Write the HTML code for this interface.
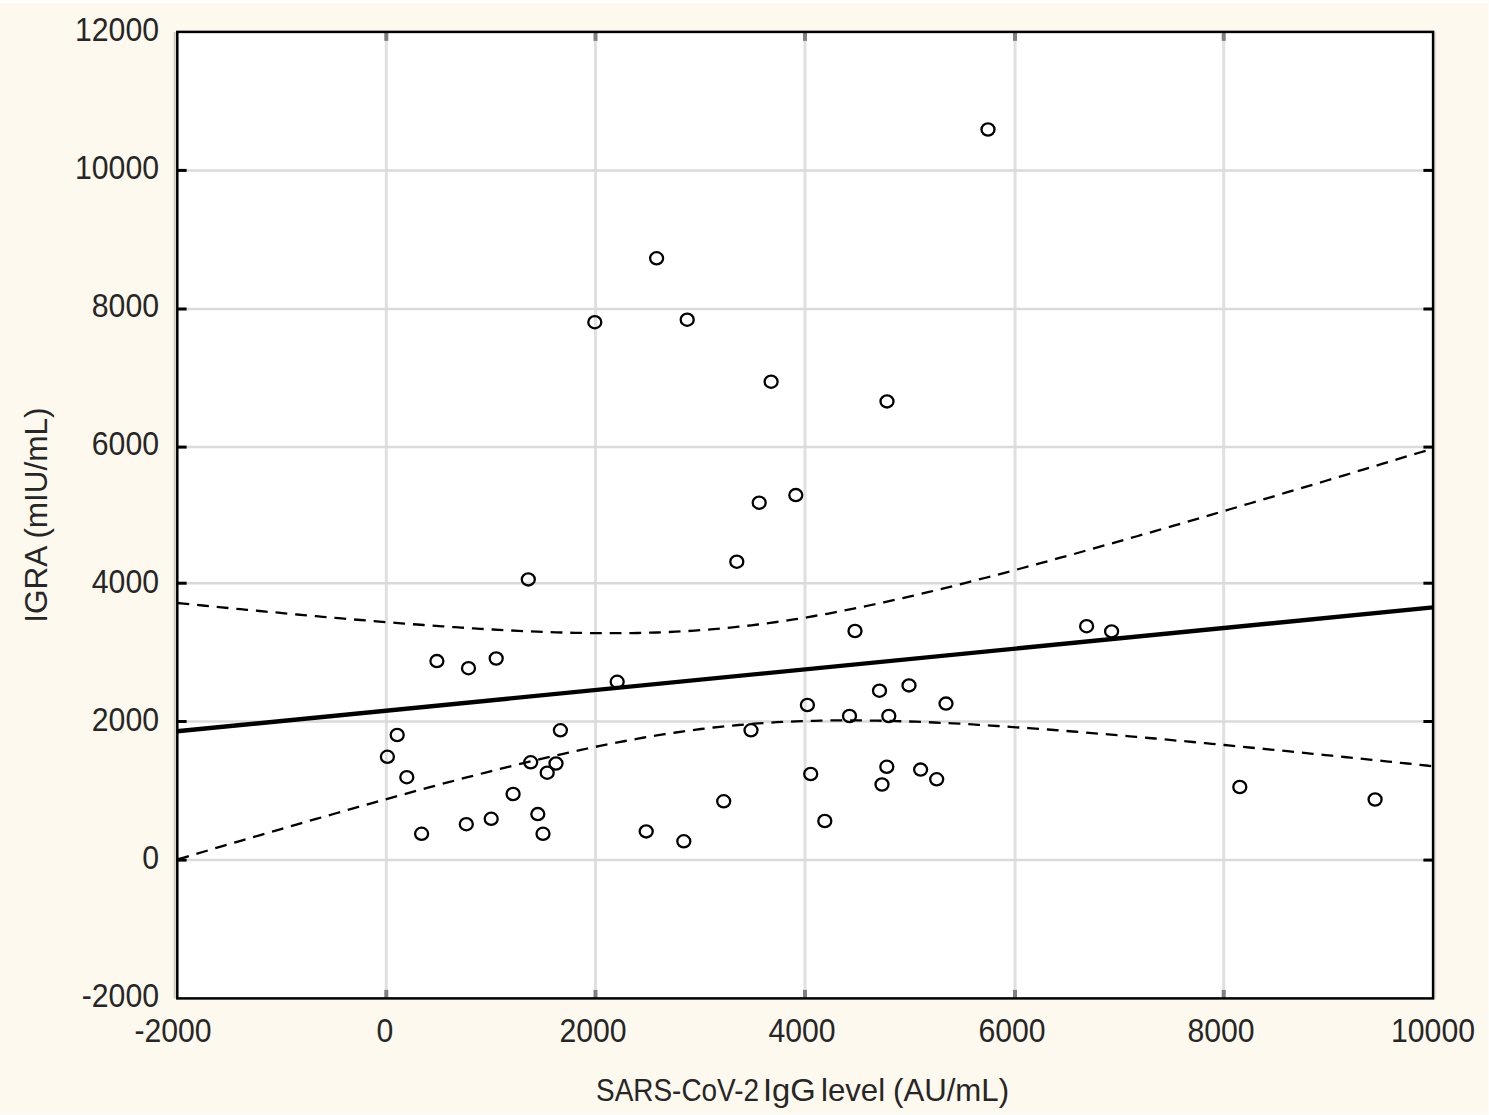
<!DOCTYPE html>
<html><head><meta charset="utf-8"><style>
html,body{margin:0;padding:0;}
body{width:1489px;height:1115px;position:relative;overflow:hidden;background:#fef9ee;font-family:"Liberation Sans",sans-serif;color:#262626;}
.top{position:absolute;left:0;top:0;width:1489px;height:4px;background:linear-gradient(#fefefe 0,#fefefe 2.7px,#fef9ee 4px);}
.bot{position:absolute;left:0;bottom:0;width:1489px;height:1px;background:#fefcf6;}
.rgt{position:absolute;right:0;top:0;width:1px;height:1115px;background:#fefcf8;}
svg{position:absolute;left:0;top:0;}
.yl{position:absolute;left:20px;width:139px;text-align:right;font-size:33px;line-height:34px;height:34px;white-space:nowrap;transform:scaleX(0.915);transform-origin:100% 50%;}
.xl{position:absolute;top:1014px;width:120px;text-align:center;font-size:33px;line-height:34px;white-space:nowrap;transform:scaleX(0.915);}
.xw{position:absolute;top:1072px;font-size:31.5px;line-height:36px;white-space:nowrap;transform-origin:0 50%;}
.yt{position:absolute;left:36px;top:515px;width:300px;height:36px;margin-left:-150px;margin-top:-18px;text-align:center;font-size:31.5px;line-height:36px;white-space:nowrap;transform:rotate(-90deg);}
</style></head><body>
<div class="top"></div><div class="bot"></div><div class="rgt"></div>
<svg width="1489" height="1115" viewBox="0 0 1489 1115">
<rect x="176.6" y="32.4" width="1256.8000000000002" height="966.0" fill="#ffffff"/>
<line x1="386.3" y1="32.4" x2="386.3" y2="998.4" stroke="#e0e0e0" stroke-width="3"/>
<line x1="595.5" y1="32.4" x2="595.5" y2="998.4" stroke="#e0e0e0" stroke-width="3"/>
<line x1="805.0" y1="32.4" x2="805.0" y2="998.4" stroke="#e0e0e0" stroke-width="3"/>
<line x1="1015.0" y1="32.4" x2="1015.0" y2="998.4" stroke="#e0e0e0" stroke-width="3"/>
<line x1="1223.7" y1="32.4" x2="1223.7" y2="998.4" stroke="#e0e0e0" stroke-width="3"/>
<line x1="176.6" y1="860.1" x2="1433.4" y2="860.1" stroke="#dadada" stroke-width="2.5"/>
<line x1="176.6" y1="721.5" x2="1433.4" y2="721.5" stroke="#dadada" stroke-width="2.5"/>
<line x1="176.6" y1="583.2" x2="1433.4" y2="583.2" stroke="#dadada" stroke-width="2.5"/>
<line x1="176.6" y1="447.1" x2="1433.4" y2="447.1" stroke="#dadada" stroke-width="2.5"/>
<line x1="176.6" y1="309.0" x2="1433.4" y2="309.0" stroke="#dadada" stroke-width="2.5"/>
<line x1="176.6" y1="170.4" x2="1433.4" y2="170.4" stroke="#dadada" stroke-width="2.5"/>
<line x1="386.3" y1="998.4" x2="386.3" y2="989.9" stroke="#808080" stroke-width="4"/>
<line x1="386.3" y1="32.4" x2="386.3" y2="40.9" stroke="#808080" stroke-width="4"/>
<line x1="595.5" y1="998.4" x2="595.5" y2="989.9" stroke="#808080" stroke-width="4"/>
<line x1="595.5" y1="32.4" x2="595.5" y2="40.9" stroke="#808080" stroke-width="4"/>
<line x1="805.0" y1="998.4" x2="805.0" y2="989.9" stroke="#808080" stroke-width="4"/>
<line x1="805.0" y1="32.4" x2="805.0" y2="40.9" stroke="#808080" stroke-width="4"/>
<line x1="1015.0" y1="998.4" x2="1015.0" y2="989.9" stroke="#808080" stroke-width="4"/>
<line x1="1015.0" y1="32.4" x2="1015.0" y2="40.9" stroke="#808080" stroke-width="4"/>
<line x1="1223.7" y1="998.4" x2="1223.7" y2="989.9" stroke="#808080" stroke-width="4"/>
<line x1="1223.7" y1="32.4" x2="1223.7" y2="40.9" stroke="#808080" stroke-width="4"/>
<line x1="176.6" y1="860.1" x2="186.6" y2="860.1" stroke="#000" stroke-width="3"/>
<line x1="1433.4" y1="860.1" x2="1423.4" y2="860.1" stroke="#000" stroke-width="3"/>
<line x1="176.6" y1="721.5" x2="186.6" y2="721.5" stroke="#000" stroke-width="3"/>
<line x1="1433.4" y1="721.5" x2="1423.4" y2="721.5" stroke="#000" stroke-width="3"/>
<line x1="176.6" y1="583.2" x2="186.6" y2="583.2" stroke="#000" stroke-width="3"/>
<line x1="1433.4" y1="583.2" x2="1423.4" y2="583.2" stroke="#000" stroke-width="3"/>
<line x1="176.6" y1="447.1" x2="186.6" y2="447.1" stroke="#000" stroke-width="3"/>
<line x1="1433.4" y1="447.1" x2="1423.4" y2="447.1" stroke="#000" stroke-width="3"/>
<line x1="176.6" y1="309.0" x2="186.6" y2="309.0" stroke="#000" stroke-width="3"/>
<line x1="1433.4" y1="309.0" x2="1423.4" y2="309.0" stroke="#000" stroke-width="3"/>
<line x1="176.6" y1="170.4" x2="186.6" y2="170.4" stroke="#000" stroke-width="3"/>
<line x1="1433.4" y1="170.4" x2="1423.4" y2="170.4" stroke="#000" stroke-width="3"/>
<polyline points="177.5,603.0 183.8,603.6 190.1,604.3 196.4,604.9 202.7,605.5 209.0,606.1 215.3,606.7 221.6,607.4 228.0,608.0 234.3,608.6 240.6,609.2 246.9,609.8 253.2,610.4 259.5,611.0 265.8,611.6 272.1,612.2 278.4,612.7 284.7,613.3 291.0,613.9 297.3,614.5 303.6,615.1 309.9,615.6 316.2,616.2 322.6,616.8 328.9,617.3 335.2,617.9 341.5,618.4 347.8,619.0 354.1,619.5 360.4,620.0 366.7,620.5 373.0,621.1 379.3,621.6 385.6,622.1 391.9,622.6 398.2,623.1 404.5,623.6 410.8,624.1 417.1,624.5 423.5,625.0 429.8,625.5 436.1,625.9 442.4,626.3 448.7,626.8 455.0,627.2 461.3,627.6 467.6,628.0 473.9,628.4 480.2,628.8 486.5,629.2 492.8,629.5 499.1,629.9 505.4,630.2 511.7,630.5 518.1,630.8 524.4,631.1 530.7,631.4 537.0,631.6 543.3,631.9 549.6,632.1 555.9,632.3 562.2,632.5 568.5,632.7 574.8,632.8 581.1,632.9 587.4,633.0 593.7,633.1 600.0,633.2 606.3,633.2 612.7,633.2 619.0,633.2 625.3,633.1 631.6,633.1 637.9,633.0 644.2,632.8 650.5,632.7 656.8,632.5 663.1,632.2 669.4,632.0 675.7,631.7 682.0,631.3 688.3,631.0 694.6,630.6 700.9,630.1 707.2,629.7 713.6,629.2 719.9,628.6 726.2,628.0 732.5,627.4 738.8,626.7 745.1,626.0 751.4,625.3 757.7,624.5 764.0,623.7 770.3,622.9 776.6,622.0 782.9,621.1 789.2,620.1 795.5,619.2 801.8,618.2 808.2,617.1 814.5,616.0 820.8,614.9 827.1,613.8 833.4,612.6 839.7,611.4 846.0,610.2 852.3,608.9 858.6,607.7 864.9,606.4 871.2,605.0 877.5,603.7 883.8,602.3 890.1,600.9 896.4,599.5 902.8,598.1 909.1,596.6 915.4,595.2 921.7,593.7 928.0,592.2 934.3,590.7 940.6,589.1 946.9,587.6 953.2,586.0 959.5,584.4 965.8,582.8 972.1,581.2 978.4,579.6 984.7,578.0 991.0,576.4 997.3,574.7 1003.7,573.1 1010.0,571.4 1016.3,569.7 1022.6,568.0 1028.9,566.3 1035.2,564.6 1041.5,562.9 1047.8,561.2 1054.1,559.5 1060.4,557.7 1066.7,556.0 1073.0,554.3 1079.3,552.5 1085.6,550.7 1091.9,549.0 1098.3,547.2 1104.6,545.4 1110.9,543.7 1117.2,541.9 1123.5,540.1 1129.8,538.3 1136.1,536.5 1142.4,534.7 1148.7,532.9 1155.0,531.1 1161.3,529.2 1167.6,527.4 1173.9,525.6 1180.2,523.8 1186.5,521.9 1192.9,520.1 1199.2,518.3 1205.5,516.4 1211.8,514.6 1218.1,512.7 1224.4,510.9 1230.7,509.0 1237.0,507.2 1243.3,505.3 1249.6,503.5 1255.9,501.6 1262.2,499.7 1268.5,497.9 1274.8,496.0 1281.1,494.1 1287.4,492.2 1293.8,490.4 1300.1,488.5 1306.4,486.6 1312.7,484.7 1319.0,482.8 1325.3,481.0 1331.6,479.1 1337.9,477.2 1344.2,475.3 1350.5,473.4 1356.8,471.5 1363.1,469.6 1369.4,467.7 1375.7,465.8 1382.0,463.9 1388.4,462.0 1394.7,460.1 1401.0,458.2 1407.3,456.3 1413.6,454.4 1419.9,452.5 1426.2,450.6 1432.5,448.7" fill="none" stroke="#000" stroke-width="2.3" stroke-dasharray="11.8 7.9"/>
<polyline points="177.5,859.4 183.8,857.6 190.1,855.7 196.4,853.8 202.7,852.0 209.0,850.1 215.3,848.2 221.6,846.4 228.0,844.5 234.3,842.7 240.6,840.8 246.9,839.0 253.2,837.1 259.5,835.3 265.8,833.5 272.1,831.6 278.4,829.8 284.7,828.0 291.0,826.1 297.3,824.3 303.6,822.5 309.9,820.7 316.2,818.9 322.6,817.1 328.9,815.3 335.2,813.5 341.5,811.7 347.8,809.9 354.1,808.1 360.4,806.3 366.7,804.6 373.0,802.8 379.3,801.0 385.6,799.3 391.9,797.6 398.2,795.8 404.5,794.1 410.8,792.4 417.1,790.6 423.5,788.9 429.8,787.2 436.1,785.5 442.4,783.8 448.7,782.2 455.0,780.5 461.3,778.8 467.6,777.2 473.9,775.6 480.2,773.9 486.5,772.3 492.8,770.7 499.1,769.1 505.4,767.6 511.7,766.0 518.1,764.4 524.4,762.9 530.7,761.4 537.0,759.9 543.3,758.4 549.6,756.9 555.9,755.5 562.2,754.1 568.5,752.6 574.8,751.3 581.1,749.9 587.4,748.5 593.7,747.2 600.0,745.9 606.3,744.6 612.7,743.4 619.0,742.2 625.3,741.0 631.6,739.8 637.9,738.7 644.2,737.5 650.5,736.5 656.8,735.4 663.1,734.4 669.4,733.4 675.7,732.5 682.0,731.6 688.3,730.7 694.6,729.8 700.9,729.0 707.2,728.3 713.6,727.5 719.9,726.8 726.2,726.2 732.5,725.6 738.8,725.0 745.1,724.4 751.4,723.9 757.7,723.4 764.0,723.0 770.3,722.6 776.6,722.2 782.9,721.9 789.2,721.6 795.5,721.4 801.8,721.1 808.2,720.9 814.5,720.8 820.8,720.6 827.1,720.5 833.4,720.4 839.7,720.4 846.0,720.4 852.3,720.4 858.6,720.4 864.9,720.5 871.2,720.6 877.5,720.7 883.8,720.8 890.1,720.9 896.4,721.1 902.8,721.3 909.1,721.5 915.4,721.7 921.7,722.0 928.0,722.2 934.3,722.5 940.6,722.8 946.9,723.1 953.2,723.4 959.5,723.7 965.8,724.1 972.1,724.4 978.4,724.8 984.7,725.2 991.0,725.6 997.3,726.0 1003.7,726.4 1010.0,726.8 1016.3,727.3 1022.6,727.7 1028.9,728.1 1035.2,728.6 1041.5,729.1 1047.8,729.5 1054.1,730.0 1060.4,730.5 1066.7,731.0 1073.0,731.5 1079.3,732.0 1085.6,732.5 1091.9,733.1 1098.3,733.6 1104.6,734.1 1110.9,734.7 1117.2,735.2 1123.5,735.7 1129.8,736.3 1136.1,736.9 1142.4,737.4 1148.7,738.0 1155.0,738.5 1161.3,739.1 1167.6,739.7 1173.9,740.3 1180.2,740.9 1186.5,741.4 1192.9,742.0 1199.2,742.6 1205.5,743.2 1211.8,743.8 1218.1,744.4 1224.4,745.0 1230.7,745.6 1237.0,746.3 1243.3,746.9 1249.6,747.5 1255.9,748.1 1262.2,748.7 1268.5,749.4 1274.8,750.0 1281.1,750.6 1287.4,751.2 1293.8,751.9 1300.1,752.5 1306.4,753.1 1312.7,753.8 1319.0,754.4 1325.3,755.1 1331.6,755.7 1337.9,756.3 1344.2,757.0 1350.5,757.6 1356.8,758.3 1363.1,758.9 1369.4,759.6 1375.7,760.2 1382.0,760.9 1388.4,761.6 1394.7,762.2 1401.0,762.9 1407.3,763.5 1413.6,764.2 1419.9,764.9 1426.2,765.5 1432.5,766.2" fill="none" stroke="#000" stroke-width="2.3" stroke-dasharray="11.8 7.9"/>
<line x1="177" y1="731.3" x2="1433" y2="607.4" stroke="#000" stroke-width="4.4"/>
<ellipse cx="988" cy="129.5" rx="6.5" ry="6.1" fill="none" stroke="#000" stroke-width="2.3"/>
<ellipse cx="656.6" cy="258.3" rx="6.5" ry="6.1" fill="none" stroke="#000" stroke-width="2.3"/>
<ellipse cx="594.8" cy="322.2" rx="6.5" ry="6.1" fill="none" stroke="#000" stroke-width="2.3"/>
<ellipse cx="687.2" cy="319.7" rx="6.5" ry="6.1" fill="none" stroke="#000" stroke-width="2.3"/>
<ellipse cx="771.1" cy="381.7" rx="6.5" ry="6.1" fill="none" stroke="#000" stroke-width="2.3"/>
<ellipse cx="887" cy="401.4" rx="6.5" ry="6.1" fill="none" stroke="#000" stroke-width="2.3"/>
<ellipse cx="795.8" cy="495.1" rx="6.5" ry="6.1" fill="none" stroke="#000" stroke-width="2.3"/>
<ellipse cx="759.2" cy="502.7" rx="6.5" ry="6.1" fill="none" stroke="#000" stroke-width="2.3"/>
<ellipse cx="736.8" cy="561.7" rx="6.5" ry="6.1" fill="none" stroke="#000" stroke-width="2.3"/>
<ellipse cx="528.3" cy="579.4" rx="6.5" ry="6.1" fill="none" stroke="#000" stroke-width="2.3"/>
<ellipse cx="855" cy="631" rx="6.5" ry="6.1" fill="none" stroke="#000" stroke-width="2.3"/>
<ellipse cx="1086.6" cy="626.2" rx="6.5" ry="6.1" fill="none" stroke="#000" stroke-width="2.3"/>
<ellipse cx="1111.6" cy="631.4" rx="6.5" ry="6.1" fill="none" stroke="#000" stroke-width="2.3"/>
<ellipse cx="436.9" cy="661.1" rx="6.5" ry="6.1" fill="none" stroke="#000" stroke-width="2.3"/>
<ellipse cx="468.5" cy="668.2" rx="6.5" ry="6.1" fill="none" stroke="#000" stroke-width="2.3"/>
<ellipse cx="496.2" cy="658.5" rx="6.5" ry="6.1" fill="none" stroke="#000" stroke-width="2.3"/>
<ellipse cx="617.2" cy="681.8" rx="6.5" ry="6.1" fill="none" stroke="#000" stroke-width="2.3"/>
<ellipse cx="879.5" cy="690.7" rx="6.5" ry="6.1" fill="none" stroke="#000" stroke-width="2.3"/>
<ellipse cx="909" cy="685.4" rx="6.5" ry="6.1" fill="none" stroke="#000" stroke-width="2.3"/>
<ellipse cx="946" cy="703.6" rx="6.5" ry="6.1" fill="none" stroke="#000" stroke-width="2.3"/>
<ellipse cx="807.4" cy="705" rx="6.5" ry="6.1" fill="none" stroke="#000" stroke-width="2.3"/>
<ellipse cx="849.5" cy="716" rx="6.5" ry="6.1" fill="none" stroke="#000" stroke-width="2.3"/>
<ellipse cx="888.8" cy="716" rx="6.5" ry="6.1" fill="none" stroke="#000" stroke-width="2.3"/>
<ellipse cx="751" cy="730.3" rx="6.5" ry="6.1" fill="none" stroke="#000" stroke-width="2.3"/>
<ellipse cx="560.4" cy="730.3" rx="6.5" ry="6.1" fill="none" stroke="#000" stroke-width="2.3"/>
<ellipse cx="397.2" cy="735" rx="6.5" ry="6.1" fill="none" stroke="#000" stroke-width="2.3"/>
<ellipse cx="387.4" cy="756.8" rx="6.5" ry="6.1" fill="none" stroke="#000" stroke-width="2.3"/>
<ellipse cx="530.7" cy="762.3" rx="6.5" ry="6.1" fill="none" stroke="#000" stroke-width="2.3"/>
<ellipse cx="556" cy="763.5" rx="6.5" ry="6.1" fill="none" stroke="#000" stroke-width="2.3"/>
<ellipse cx="547.2" cy="772.7" rx="6.5" ry="6.1" fill="none" stroke="#000" stroke-width="2.3"/>
<ellipse cx="406.8" cy="777.2" rx="6.5" ry="6.1" fill="none" stroke="#000" stroke-width="2.3"/>
<ellipse cx="810.7" cy="774" rx="6.5" ry="6.1" fill="none" stroke="#000" stroke-width="2.3"/>
<ellipse cx="886.8" cy="766.8" rx="6.5" ry="6.1" fill="none" stroke="#000" stroke-width="2.3"/>
<ellipse cx="920.6" cy="769.6" rx="6.5" ry="6.1" fill="none" stroke="#000" stroke-width="2.3"/>
<ellipse cx="936.7" cy="779.3" rx="6.5" ry="6.1" fill="none" stroke="#000" stroke-width="2.3"/>
<ellipse cx="882" cy="784.5" rx="6.5" ry="6.1" fill="none" stroke="#000" stroke-width="2.3"/>
<ellipse cx="1239.8" cy="787" rx="6.5" ry="6.1" fill="none" stroke="#000" stroke-width="2.3"/>
<ellipse cx="513.1" cy="794" rx="6.5" ry="6.1" fill="none" stroke="#000" stroke-width="2.3"/>
<ellipse cx="1375.1" cy="799.5" rx="6.5" ry="6.1" fill="none" stroke="#000" stroke-width="2.3"/>
<ellipse cx="723.7" cy="801.3" rx="6.5" ry="6.1" fill="none" stroke="#000" stroke-width="2.3"/>
<ellipse cx="537.8" cy="814.1" rx="6.5" ry="6.1" fill="none" stroke="#000" stroke-width="2.3"/>
<ellipse cx="824.8" cy="821" rx="6.5" ry="6.1" fill="none" stroke="#000" stroke-width="2.3"/>
<ellipse cx="466.3" cy="824.2" rx="6.5" ry="6.1" fill="none" stroke="#000" stroke-width="2.3"/>
<ellipse cx="491.2" cy="818.8" rx="6.5" ry="6.1" fill="none" stroke="#000" stroke-width="2.3"/>
<ellipse cx="421.6" cy="833.8" rx="6.5" ry="6.1" fill="none" stroke="#000" stroke-width="2.3"/>
<ellipse cx="543" cy="833.8" rx="6.5" ry="6.1" fill="none" stroke="#000" stroke-width="2.3"/>
<ellipse cx="646.2" cy="831.4" rx="6.5" ry="6.1" fill="none" stroke="#000" stroke-width="2.3"/>
<ellipse cx="683.8" cy="841.3" rx="6.5" ry="6.1" fill="none" stroke="#000" stroke-width="2.3"/>
<line x1="174.70000000000002" y1="31.9" x2="174.70000000000002" y2="998.4" stroke="#cfcbbf" stroke-width="2"/>
<line x1="1435.5" y1="31.9" x2="1435.5" y2="998.4" stroke="#e6e2d6" stroke-width="1.6"/>
<rect x="177.3" y="31.9" width="1255.8" height="966.5" fill="none" stroke="#000" stroke-width="2.5"/>
</svg>
<div class="yl" style="top:979.4px">-2000</div>
<div class="yl" style="top:841.4px">0</div>
<div class="yl" style="top:703.4px">2000</div>
<div class="yl" style="top:565.4px">4000</div>
<div class="yl" style="top:427.4px">6000</div>
<div class="yl" style="top:289.4px">8000</div>
<div class="yl" style="top:151.4px">10000</div>
<div class="yl" style="top:13.4px">12000</div>
<div class="xl" style="left:113.1px">-2000</div>
<div class="xl" style="left:324.6px">0</div>
<div class="xl" style="left:532.5px">2000</div>
<div class="xl" style="left:742.0px">4000</div>
<div class="xl" style="left:951.5px">6000</div>
<div class="xl" style="left:1160.9px">8000</div>
<div class="xl" style="left:1372.9px">10000</div>
<div class="xw" style="left:595.6px;transform:scaleX(0.887)">SARS-CoV-2</div>
<div class="xw" style="left:763.2px;transform:scaleX(1.04)">IgG</div>
<div class="xw" style="left:821.3px;transform:scaleX(0.99)">level</div>
<div class="xw" style="left:893.3px;transform:scaleX(0.99)">(AU/mL)</div>
<div class="yt">IGRA (mIU/mL)</div>
</body></html>
